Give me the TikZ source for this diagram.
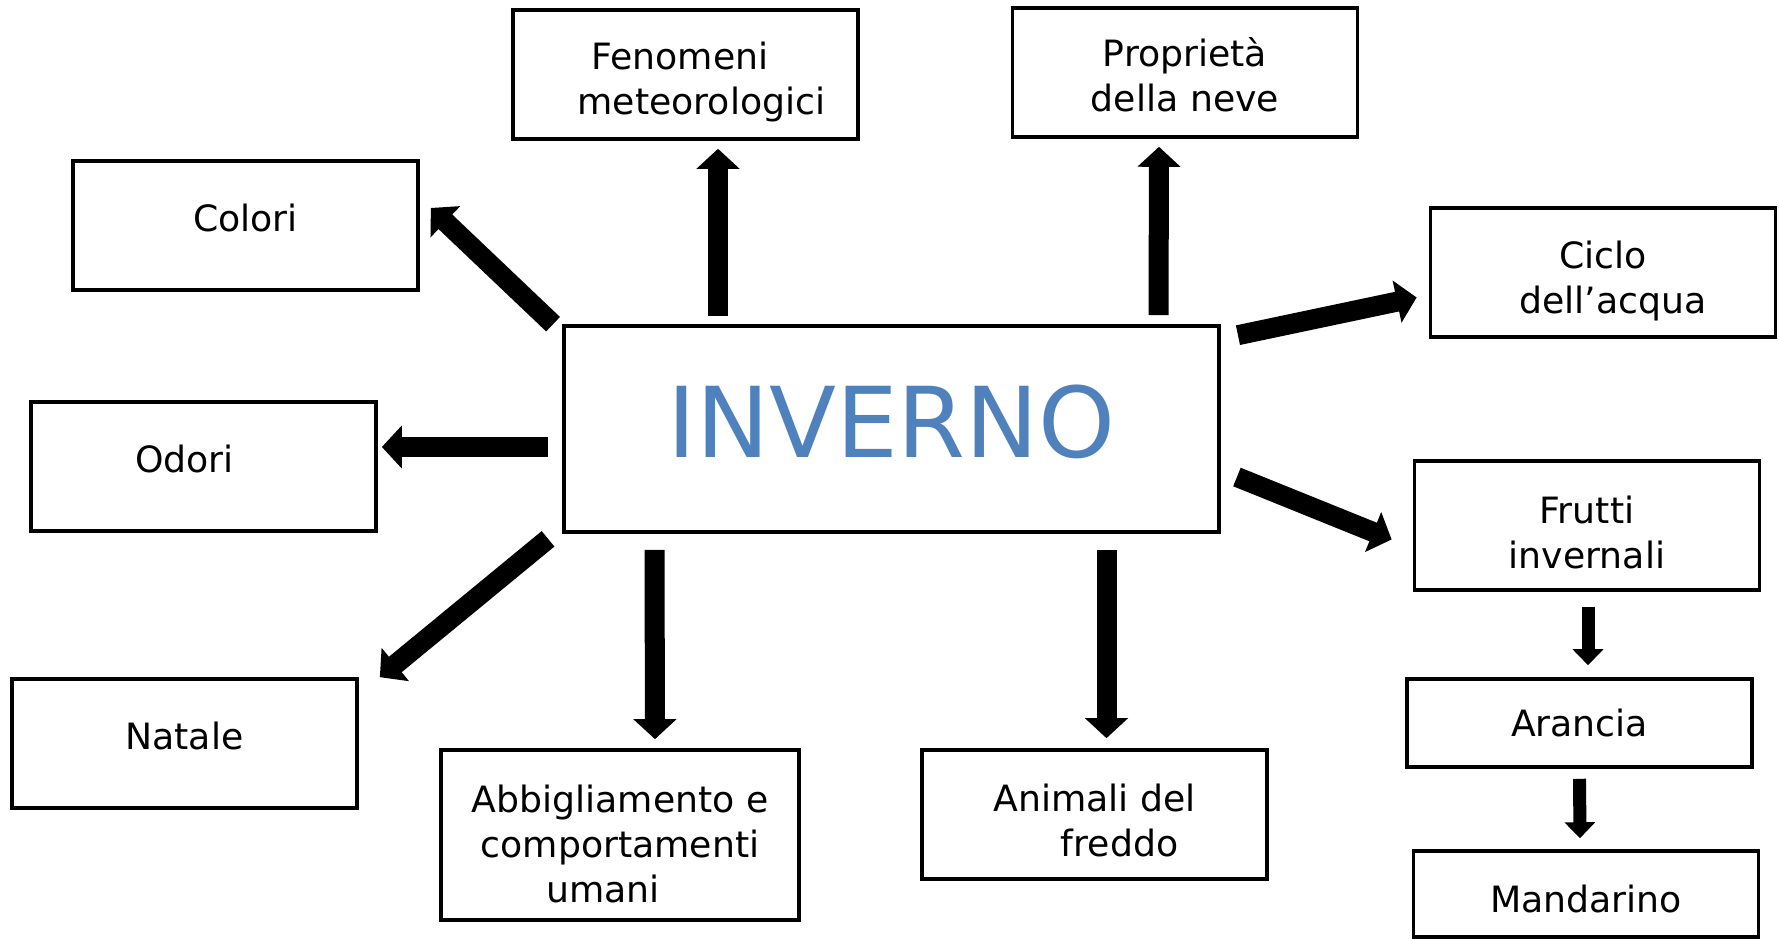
\documentclass[tikz,border=0pt]{standalone}
\usepackage{fontspec}
\setmainfont{DejaVu Sans}
\usetikzlibrary{arrows.meta, calc}
\definecolor{title}{HTML}{4F81BD}
\definecolor{ink}  {HTML}{000000}

\tikzset{
  topic/.style={draw=ink, line width=1pt, fill=white, align=center, inner sep=0pt,
    minimum width=3.45cm, minimum height=1.29cm, font=\fontsize{10.3}{12.8}\selectfont},
  raised/.style={text depth=0.16cm},
  bigarrow/.style={ink, line width=2mm, -{Triangle[length=2mm, width=4.2mm]}},
  smallarrow/.style={ink, line width=1.3mm, -{Triangle[length=1.6mm, width=3mm]}}
}
% pushes a first line down
\newcommand{\lowtop}[1]{\rule{0pt}{#1}}

\begin{document}
\begin{tikzpicture}[x=0.01cm, y=-0.01cm]
    \useasboundingbox (0,0) rectangle (1779,940);

    % centre
    \node[topic, raised, minimum width=6.55cm, minimum height=2.06cm, text=title,
          font=\fontsize{27.8}{32}\selectfont] (inverno) at (891.5,429) {INVERNO};

    % topics round it
    \node[topic] (fenomeni)  at (685.5,74.5)  {\lowtop{4.3mm}Fenomeni\hspace*{0.11cm}\\\hspace*{0.32cm}meteorologici};
    \node[topic] (proprieta) at (1185,72.5)   {\lowtop{3.4mm}Proprietà\\della neve};
    \node[topic, raised] (colori) at (245.5,225.5) {Colori};
    \node[topic] (ciclo)     at (1603,272.5)  {\lowtop{4.5mm}Ciclo\\\hspace*{0.2cm}dell’acqua};
    \node[topic, raised] (odori)  at (203.5,466.5) {Odori\hspace*{0.38cm}};
    \node[topic] (frutti)    at (1587,525.5)  {\lowtop{4.1mm}Frutti\\invernali};
    \node[topic, raised] (natale) at (184.5,743.5) {Natale};
    \node[topic, minimum width=3.58cm, minimum height=1.70cm] (abbigliamento) at (620,835)
        {\lowtop{4.5mm}Abbigliamento e\\comportamenti\hspace*{0.27cm}\\umani\hspace*{0.34cm}};
    \node[topic] (animali)   at (1094.5,814.5) {\lowtop{3.9mm}Animali del\\\hspace*{0.5cm}freddo};
    \node[topic, minimum height=0.88cm] (arancia)   at (1579.5,723) {Arancia};
    \node[topic, minimum height=0.86cm, text height=0.365cm] (mandarino) at (1586,894) {Mandarino};

    % arrows
    \draw[bigarrow] ($(inverno.north west)+(-9,0)$)   -- ($(colori.east)+(11,-17.5)$);
    \draw[bigarrow] ($(inverno.north)+(-173.5,-8)$)   -- ($(fenomeni.south)+(32.5,8)$);
    \draw[bigarrow] ($(inverno.north)+(267,-9)$)      -- ($(proprieta.south)+(-26,8)$);
    \draw[bigarrow] ($(inverno.north east)+(17,11)$)  -- ($(ciclo.west)+(-12,25)$);
    \draw[bigarrow] ($(inverno.west)+(-14,18)$)       -- ($(odori.east)+(4,-19.5)$);
    \draw[bigarrow] ($(inverno.south west)+(-14,5)$)  -- ($(natale.north east)+(21,0)$);
    \draw[bigarrow] ($(inverno.south)+(-237,16)$)     -- ($(abbigliamento.north)+(35,-9)$);
    \draw[bigarrow] ($(inverno.south)+(215,16)$)      -- ($(animali.north)+(12,-10)$);
    \draw[bigarrow] ($(inverno.east)+(16,48)$)        -- ($(frutti.west)+(-21,14)$);
    \draw[smallarrow] ($(frutti.south)+(1,15)$)       -- ($(arancia.north)+(8.5,-12)$);
    \draw[smallarrow] ($(arancia.south)+(0,10)$)      -- ($(mandarino.north)+(-6,-11)$);
\end{tikzpicture}
\end{document}
